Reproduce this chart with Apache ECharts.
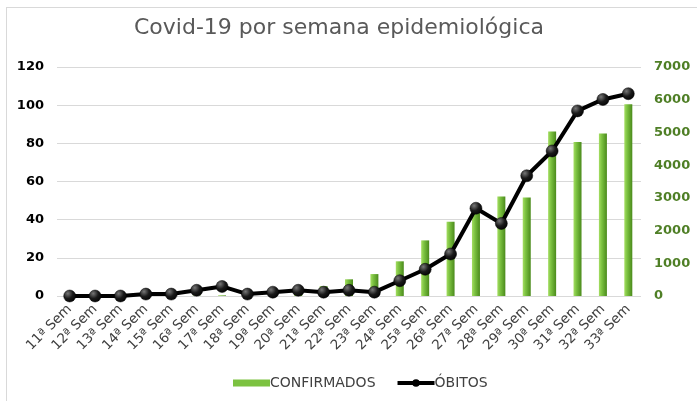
<!DOCTYPE html>
<html lang="pt">
<head>
  <meta charset="utf-8">
  <title>Covid-19 por semana epidemiológica</title>
  <script type="text/javascript" src="https://fastly.jsdelivr.net/npm/echarts@6/dist/echarts.min.js"></script>
  <style type="text/css">
    * {
      margin: 0;
      padding: 0;
    }
    html, body {
      width: 100%;
      height: 100%;
      overflow: hidden;
      background: #fff;
    }
    #frame {
      position: absolute;
      left: 6px;
      top: 7px;
      width: 760px;
      height: 460px;
      border-left: 1px solid #d9d9d9;
      border-top: 1px solid #d9d9d9;
    }
    #chart {
      position: absolute;
      left: 0;
      top: 0;
      width: 697px;
      height: 401px;
    }
  </style>
</head>
<body>
  <div id="frame"></div>
  <div id="chart"></div>
  <script type="text/javascript">
    // semanas epidemiológicas
    var semanas = ['11ª Sem', '12ª Sem', '13ª Sem', '14ª Sem', '15ª Sem', '16ª Sem', '17ª Sem', '18ª Sem',
      '19ª Sem', '20ª Sem', '21ª Sem', '22ª Sem', '23ª Sem', '24ª Sem', '25ª Sem', '26ª Sem', '27ª Sem',
      '28ª Sem', '29ª Sem', '30ª Sem', '31ª Sem', '32ª Sem', '33ª Sem'];
    // casos confirmados (eixo direito)
    var confirmados = [0, 0, 2, 5, 8, 15, 20, 30, 40, 60, 300, 510, 670, 1060, 1700, 2270, 2550,
      3040, 3010, 5030, 4710, 4970, 5860];
    // óbitos (eixo esquerdo)
    var obitos = [0, 0, 0, 1, 1, 3, 5, 1, 2, 3, 2, 3, 2, 8, 14, 22, 46, 38, 63, 76, 97, 103, 106];

    var font = '"DejaVu Sans", sans-serif';
    var green = new echarts.graphic.LinearGradient(0, 0, 1, 0, [
      { offset: 0, color: '#a5de62' },
      { offset: 0.35, color: '#7cc241' },
      { offset: 1, color: '#4a8a1b' }
    ]);
    var dot = new echarts.graphic.RadialGradient(0.35, 0.3, 0.8, [
      { offset: 0, color: '#777' },
      { offset: 0.5, color: '#1a1a1a' },
      { offset: 1, color: '#000' }
    ]);

    var chart = echarts.init(document.getElementById('chart'));
    chart.setOption({
      animation: false,
      backgroundColor: 'transparent',
      textStyle: { fontFamily: font },
      title: {
        text: 'Covid-19 por semana epidemiológica',
        left: 129,
        top: 12,
        textStyle: { fontFamily: font, fontSize: 22, fontWeight: 'normal', color: '#595959' }
      },
      legend: {
        bottom: 6,
        left: 228,
        itemGap: 20,
        itemWidth: 37,
        itemHeight: 7,
        textStyle: { fontFamily: font, fontSize: 14, color: '#404040', padding: [0, 0, 0, -5] },
        data: [
          { name: 'CONFIRMADOS', icon: 'rect', itemStyle: { color: '#7cc241' } },
          { name: 'ÓBITOS', itemStyle: { color: '#000' }, lineStyle: { width: 4, color: '#000' } }
        ]
      },
      grid: { left: 57, right: 56, top: 67, bottom: 105 },
      xAxis: {
        type: 'category',
        data: semanas,
        axisLine: { show: false },
        axisTick: { show: false },
        axisLabel: {
          rotate: 45,
          interval: 0,
          margin: 11,
          fontFamily: font,
          fontSize: 13.5,
          color: '#404040'
        }
      },
      yAxis: [
        {
          type: 'value',
          min: 0,
          max: 120,
          interval: 20,
          axisLabel: { fontFamily: font, fontSize: 13, fontWeight: 'bold', color: '#000', margin: 13 },
          splitLine: { lineStyle: { color: '#d9d9d9', width: 1 } }
        },
        {
          type: 'value',
          min: 0,
          max: 7000,
          interval: 1000,
          axisLabel: {
            fontFamily: font,
            fontSize: 13,
            fontWeight: 'bold',
            color: '#4f7f26',
            margin: 13,
            formatter: function (v) { return String(v); }
          },
          splitLine: { show: false }
        }
      ],
      series: [
        {
          name: 'CONFIRMADOS',
          type: 'bar',
          yAxisIndex: 1,
          barWidth: 8,
          itemStyle: { color: green },
          data: confirmados
        },
        {
          name: 'ÓBITOS',
          type: 'line',
          yAxisIndex: 0,
          symbol: 'circle',
          symbolSize: 12,
          lineStyle: { color: '#000', width: 4 },
          itemStyle: { color: dot, borderColor: '#000', borderWidth: 0.5 },
          data: obitos
        }
      ]
    });
  </script>
</body>
</html>
